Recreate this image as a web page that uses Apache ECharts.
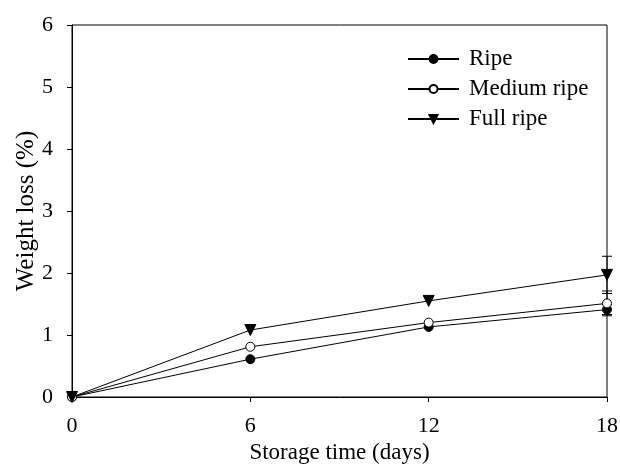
<!DOCTYPE html>
<html><head><meta charset="utf-8">
<script src="https://cdn.jsdelivr.net/npm/echarts@6/dist/echarts.min.js"></script>
<style>html,body{margin:0;padding:0;background:#fff}#c{width:620px;height:464px}</style>
</head><body><div id="c"></div>
<script>
const days = [0, 6, 12, 18];
const ripe = [0, 0.61, 1.13, 1.41];
const mediumRipe = [0, 0.81, 1.2, 1.51];
const fullRipe = [0, 1.08, 1.55, 1.97];
const ripeErr = [0, 0, 0, 0.08];
const mediumErr = [0, 0, 0, 0.2];
const fullErr = [0, 0, 0, 0.3];
const yTicks = [0, 1, 2, 3, 4, 5, 6];
const xTicks = [0, 6, 12, 18];

const font = 'Liberation Serif, Times New Roman, serif';
function pts(vals){ return days.map((d,i)=>[d, vals[i]]); }
function errData(vals, errs){ return days.map((d,i)=>[d, vals[i]-errs[i], vals[i]+errs[i]]).filter((r,i)=>errs[i]>0); }
function errSeries(vals, errs){
  return {
    type:'custom', silent:true, z:1,
    data: errData(vals, errs),
    renderItem: function(params, api){
      const x = api.value(0);
      const lo = api.coord([x, api.value(1)]);
      const hi = api.coord([x, api.value(2)]);
      const w = 5;
      const st = {stroke:'#000', lineWidth:1};
      return {type:'group', children:[
        {type:'line', shape:{x1:lo[0],y1:lo[1],x2:hi[0],y2:hi[1]}, style:st},
        {type:'line', shape:{x1:lo[0]-w,y1:lo[1],x2:lo[0]+w,y2:lo[1]}, style:st},
        {type:'line', shape:{x1:hi[0]-w,y1:hi[1],x2:hi[0]+w,y2:hi[1]}, style:st}
      ]};
    }
  };
}
const chart = echarts.init(document.getElementById('c'));
chart.setOption({
  animation:false,
  backgroundColor:'#fff',
  grid:{left:72, right:13, top:25, bottom:67, containLabel:false, outerBoundsMode:'none',
    show:true, borderColor:'#000', borderWidth:1},
  legend:{
    left:402, top:42, orient:'vertical', itemWidth:51, itemHeight:10, itemGap:6,
    textStyle:{fontFamily:font, fontSize:23, lineHeight:24, color:'#000', padding:[0,0,0,5]},
    data:['Ripe','Medium ripe','Full ripe']
  },
  xAxis:{
    type:'value', min:0, max:18, interval:6,
    name:'Storage time (days)', nameLocation:'middle', nameGap:43,
    nameTextStyle:{fontFamily:font, fontSize:23, color:'#000'},
    axisLine:{lineStyle:{color:'#000', width:1}},
    axisTick:{show:true, length:5, inside:false, lineStyle:{color:'#000'}},
    axisLabel:{fontFamily:font, fontSize:22, color:'#000', margin:18,
      formatter:v=> xTicks.indexOf(v)>=0 ? String(v) : ''},
    splitLine:{show:false}
  },
  yAxis:{
    type:'value', min:0, max:6, interval:1,
    name:'Weight loss (%)', nameLocation:'middle', nameGap:33, nameRotate:90, nameMoveOverlap:false,
    nameTextStyle:{fontFamily:font, fontSize:25, color:'#000'},
    axisLine:{show:true, lineStyle:{color:'#000', width:1}},
    axisTick:{show:true, length:5, inside:false, lineStyle:{color:'#000'}},
    axisLabel:{fontFamily:font, fontSize:22, color:'#000', margin:19,
      formatter:v=> yTicks.indexOf(v)>=0 ? String(v) : ''},
    splitLine:{show:false}
  },
  series:[
    errSeries(fullRipe, fullErr),
    errSeries(mediumRipe, mediumErr),
    errSeries(ripe, ripeErr),
    {name:'Ripe', type:'line', data:pts(ripe), symbol:'circle', symbolSize:9,
      lineStyle:{color:'#000', width:1}, itemStyle:{color:'#000', borderColor:'#000', borderWidth:1}, z:3},
    {name:'Medium ripe', type:'line', data:pts(mediumRipe), symbol:'circle', symbolSize:9,
      lineStyle:{color:'#000', width:1}, itemStyle:{color:'#fff', borderColor:'#000', borderWidth:1}, z:4},
    {name:'Full ripe', type:'line', data:pts(fullRipe), symbol:'triangle', symbolRotate:180, symbolSize:11,
      lineStyle:{color:'#000', width:1}, itemStyle:{color:'#000', borderColor:'#000', borderWidth:1}, z:5}
  ]
});
</script>
</body></html>
